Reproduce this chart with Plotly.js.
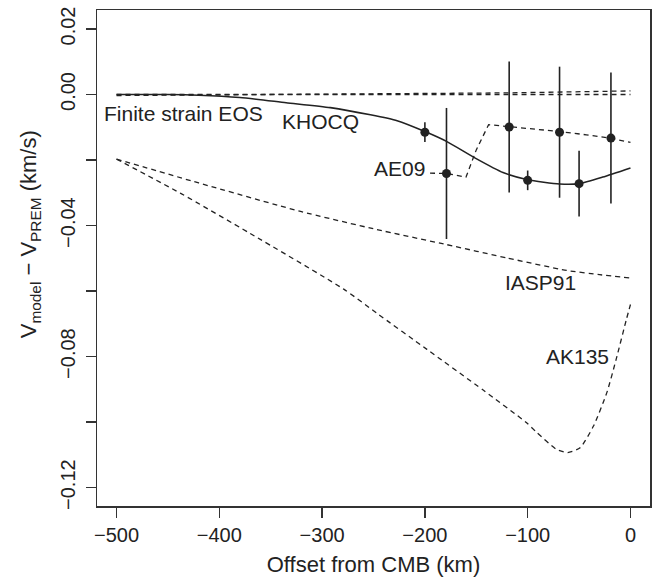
<!DOCTYPE html>
<html>
<head>
<meta charset="utf-8">
<script src="https://cdn.plot.ly/plotly-3.0.1.min.js"></script>
<style>html,body{margin:0;padding:0;background:#fff;}#chart{width:660px;height:579px;}</style>
</head>
<body>
<div id="chart"></div>
<script>
// Observations with error bars
const obsX = [-200, -179, -118, -100, -69, -50, -19];
const obsY = [-0.0115, -0.0241, -0.0099, -0.0262, -0.0115, -0.0272, -0.0133];
const obsErr = [0.003, 0.020, 0.020, 0.003, 0.020, 0.010, 0.020];

// KHOCQ model (solid)
const khocqX = [-500, -450, -420, -380, -335, -292, -253, -227, -200, -179, -151, -124, -100, -69, -50, -27, 0];
const khocqY = [0, 0, -0.0002, -0.0009, -0.0025, -0.0040, -0.0062, -0.0080, -0.0113, -0.0143, -0.0194, -0.0238, -0.0260, -0.0273, -0.0272, -0.0252, -0.0224];

// Finite strain EOS (dashed, near zero) and companion near-zero curve
const eosX = [-500, 0];
const eosY = [0, 0];
const eos2X = [-500, -250, -120, 0];
const eos2Y = [-0.0003, 0.0001, 0.0005, 0.0011];

// AE09 (dashed)
const ae09X = [-195, -179, -160, -150, -138, -117, -69, -43, -20, 0];
const ae09Y = [-0.0240, -0.0241, -0.0252, -0.0169, -0.0092, -0.0098, -0.0113, -0.0123, -0.0133, -0.0146];

// IASP91 (dashed)
const iaspX = [-500, -420, -321, -247, -179, -120, -62, -30, 0];
const iaspY = [-0.0197, -0.0270, -0.0357, -0.0412, -0.0458, -0.0499, -0.0537, -0.0550, -0.0560];

// AK135 (dashed)
const akX = [-500, -438, -370, -279, -247, -198, -143, -101, -91, -72, -61, -49, -36, -23, -14, -4, 0];
const akY = [-0.0197, -0.0301, -0.0424, -0.0594, -0.0667, -0.0778, -0.0903, -0.1002, -0.1032, -0.1083, -0.1093, -0.1078, -0.1012, -0.0910, -0.0809, -0.0687, -0.0641];

// Tick labels
const xTickVals = [-500, -400, -300, -200, -100, 0];
const xTickText = ['\u2212500', '\u2212400', '\u2212300', '\u2212200', '\u2212100', '0'];
const yTickVals = [-0.12, -0.08, -0.04, 0.00, 0.02];
const yTickText = ['\u22120.12', '\u22120.08', '\u22120.04', '0.00', '0.02'];

// Curve labels
const labelText = ['Finite strain EOS', 'KHOCQ', 'AE09', 'IASP91', 'AK135'];
const labelX = [-514, -341, -198, -88, -52];
const labelY = [-0.0058, -0.0082, -0.0227, -0.0575, -0.0799];
const labelAnchor = ['left', 'left', 'right', 'center', 'center'];

const ink = '#222';
const dashStyle = '5px,4px';
const FONT = 'Liberation Sans, Arial, Helvetica, sans-serif';

const traces = [
  {x: eosX, y: eosY, mode: 'lines', line: {color: ink, width: 1.3, dash: dashStyle}, hoverinfo: 'skip'},
  {x: eos2X, y: eos2Y, mode: 'lines', line: {color: ink, width: 1.3, dash: dashStyle}, hoverinfo: 'skip'},
  {x: khocqX, y: khocqY, mode: 'lines', line: {color: ink, width: 1.6, shape: 'spline', smoothing: 0.6}},
  {x: ae09X, y: ae09Y, mode: 'lines', line: {color: ink, width: 1.3, dash: dashStyle}},
  {x: iaspX, y: iaspY, mode: 'lines', line: {color: ink, width: 1.3, dash: dashStyle, shape: 'spline', smoothing: 0.5}},
  {x: akX, y: akY, mode: 'lines', line: {color: ink, width: 1.3, dash: dashStyle, shape: 'spline', smoothing: 0.6}},
  {x: obsX, y: obsY, mode: 'markers', marker: {color: ink, size: 9},
   error_y: {type: 'data', array: obsErr, visible: true, color: ink, thickness: 1.6, width: 0}}
];

const annotations = labelText.map((t, i) => ({
  x: labelX[i], y: labelY[i], xref: 'x', yref: 'y', text: t, showarrow: false,
  xanchor: labelAnchor[i], yanchor: 'middle', font: {family: FONT, size: 21, color: ink}
}));

annotations.push({
  xref: 'paper', yref: 'paper', x: -0.121, y: 0.548,
  text: 'V<sub>model</sub> \u2212 V<sub>PREM</sub> (km/s)', textangle: -90,
  showarrow: false, xanchor: 'center', yanchor: 'middle',
  font: {family: FONT, size: 22, color: ink}
});

const axisCommon = {
  showgrid: false, zeroline: false, showline: true, mirror: true,
  linecolor: '#333', linewidth: 1.5, ticks: 'outside', ticklen: 10,
  tickwidth: 1.4, tickcolor: '#333', tickfont: {family: FONT, size: 20, color: ink}
};

const layout = {
  width: 660, height: 579,
  margin: {l: 97, r: 10, t: 10, b: 73},
  paper_bgcolor: '#fff', plot_bgcolor: '#fff',
  showlegend: false,
  xaxis: Object.assign({}, axisCommon, {
    range: [-519, 19], tickmode: 'array', tickvals: xTickVals, ticktext: xTickText,
    title: {text: 'Offset from CMB (km)', font: {family: FONT, size: 22, color: ink}, standoff: 12}
  }),
  yaxis: Object.assign({}, axisCommon, {
    range: [-0.1256, 0.0258], tickmode: 'array', tickvals: yTickVals, ticktext: yTickText,
    tickangle: -90, ticklabelstandoff: 3,
    minor: {tick0: 0, dtick: 0.02, ticks: 'outside', ticklen: 10, tickwidth: 1.4, tickcolor: '#333', showgrid: false}
  }),
  annotations: annotations
};

Plotly.newPlot('chart', traces, layout, {staticPlot: true, displayModeBar: false});
</script>
</body>
</html>
